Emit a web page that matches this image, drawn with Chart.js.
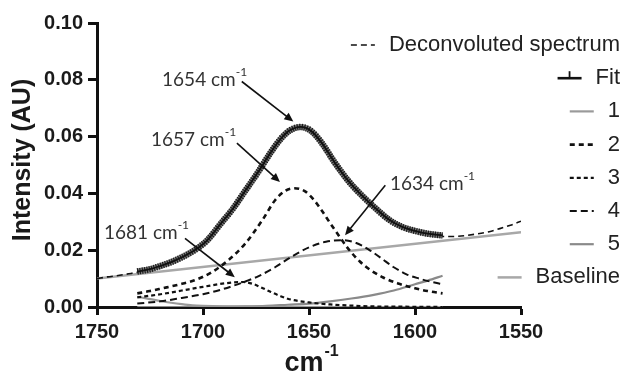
<!DOCTYPE html>
<html>
<head>
<meta charset="utf-8">
<script src="https://cdn.jsdelivr.net/npm/chart.js@4"></script>
<style>
  html, body { margin: 0; padding: 0; background: #fff; }
  #wrap { width: 624px; height: 375px; }
</style>
</head>
<body>
<div id="wrap"><canvas id="chart"></canvas></div>
<script>
// wavenumber (cm-1) / intensity pairs for every trace
const deconvWn = [1750, 1745, 1740, 1735, 1731, 1725, 1720, 1715, 1710, 1704, 1698, 1692, 1686, 1680, 1674, 1668, 1663, 1659, 1654, 1649, 1644, 1638, 1631, 1625, 1619, 1612, 1606, 1600, 1594, 1587, 1580, 1571, 1565, 1560, 1555, 1550];
const deconvVal = [0.0100, 0.0106, 0.0111, 0.0117, 0.0122, 0.0131, 0.0143, 0.0156, 0.0173, 0.0198, 0.0233, 0.0288, 0.0343, 0.0408, 0.0473, 0.0543, 0.0593, 0.0620, 0.0632, 0.0618, 0.0576, 0.0508, 0.0438, 0.0390, 0.0348, 0.0304, 0.0280, 0.0266, 0.0256, 0.0248, 0.0249, 0.0257, 0.0265, 0.0276, 0.0288, 0.0302];

const fitWn = [1731, 1725, 1720, 1715, 1710, 1704, 1698, 1692, 1686, 1680, 1674, 1668, 1663, 1659, 1654, 1649, 1644, 1638, 1631, 1625, 1619, 1612, 1606, 1600, 1594, 1587];
const fitVal = [0.0125, 0.0133, 0.0145, 0.0158, 0.0175, 0.0200, 0.0235, 0.0290, 0.0345, 0.0410, 0.0475, 0.0545, 0.0595, 0.0622, 0.0634, 0.0620, 0.0578, 0.0510, 0.0440, 0.0392, 0.0350, 0.0306, 0.0282, 0.0268, 0.0258, 0.0252];

const band1Wn = [1731, 1725, 1720, 1715, 1710, 1705, 1700, 1690, 1670, 1640, 1610, 1587];
const band1Val = [0.0036, 0.0028, 0.0021, 0.0015, 0.0010, 0.0006, 0.0004, 0.0002, 0.0001, 0, 0, 0];

const band2Wn = [1731, 1725, 1719, 1712, 1704, 1696, 1688, 1680, 1672, 1666, 1661, 1657, 1652, 1648, 1644, 1640, 1636, 1632, 1626, 1621, 1615, 1608, 1600, 1594, 1587];
const band2Val = [0.0048, 0.0056, 0.0066, 0.0078, 0.0094, 0.0122, 0.0165, 0.0224, 0.0306, 0.0376, 0.0410, 0.0418, 0.0408, 0.0380, 0.0340, 0.0295, 0.0252, 0.0210, 0.0160, 0.0130, 0.0104, 0.0083, 0.0066, 0.0056, 0.0048];

const band3Wn = [1731, 1720, 1710, 1700, 1690, 1681, 1676, 1672, 1668, 1664, 1660, 1650, 1640, 1630, 1620, 1605, 1587];
const band3Val = [0.0034, 0.0045, 0.0058, 0.0071, 0.0083, 0.0088, 0.0080, 0.0067, 0.0053, 0.0040, 0.0029, 0.0016, 0.0009, 0.0005, 0.0002, 0.0001, 0];

const band4Wn = [1731, 1720, 1710, 1700, 1692, 1686, 1680, 1674, 1666, 1658, 1650, 1642, 1634, 1628, 1622, 1616, 1610, 1604, 1598, 1592, 1587];
const band4Val = [0.0012, 0.0020, 0.0032, 0.0045, 0.0060, 0.0074, 0.0090, 0.0108, 0.0140, 0.0178, 0.0210, 0.0230, 0.0235, 0.0226, 0.0203, 0.0172, 0.0140, 0.0115, 0.0100, 0.0088, 0.0080];

const band5Wn = [1731, 1700, 1680, 1670, 1660, 1650, 1640, 1630, 1620, 1610, 1600, 1594, 1587];
const band5Val = [0, 0, 0.0002, 0.0004, 0.0008, 0.0012, 0.0020, 0.0030, 0.0042, 0.0058, 0.0080, 0.0093, 0.0110];

const baselineWn = [1750, 1550];
const baselineVal = [0.0100, 0.0263];

// axis ticks
const xTicks = [1750, 1700, 1650, 1600, 1550];
const yTicks = [0, 0.02, 0.04, 0.06, 0.08, 0.10];

// peak call-outs: label, text anchor, arrow tail, arrow tip (wavenumber, intensity)
const peakNames = ['1654', '1657', '1681', '1634'];
const peakTextAt = [[1719.3, 0.0800], [1724.5, 0.0588], [1746.7, 0.0260], [1611.8, 0.0432]];
const peakArrowFrom = [[1681.7, 0.0794], [1684.0, 0.0577], [1708.5, 0.0242], [1614.0, 0.0429]];
const peakArrowTo = [[1657.4, 0.0653], [1663.7, 0.0440], [1685.0, 0.0105], [1633.0, 0.0253]];

const series = (wn, val) => wn.map((w, i) => ({ x: w, y: val[i] }));

const datasets = [
  { label: 'Deconvoluted spectrum', data: series(deconvWn, deconvVal), borderColor: '#111', borderWidth: 1.6, borderDash: [6, 4], order: 1 },
  { label: 'Fit', data: series(fitWn, fitVal), borderColor: '#111', borderWidth: 3, order: 0 },
  { label: '1', data: series(band1Wn, band1Val), borderColor: '#9a9a9a', borderWidth: 2.2, order: 5 },
  { label: '2', data: series(band2Wn, band2Val), borderColor: '#111', borderWidth: 2.6, borderDash: [5, 4], order: 2 },
  { label: '3', data: series(band3Wn, band3Val), borderColor: '#111', borderWidth: 2.2, borderDash: [4, 3], order: 3 },
  { label: '4', data: series(band4Wn, band4Val), borderColor: '#111', borderWidth: 2, borderDash: [7, 4], order: 4 },
  { label: '5', data: series(band5Wn, band5Val), borderColor: '#8a8a8a', borderWidth: 2.2, order: 6 },
  { label: 'Baseline', data: series(baselineWn, baselineVal), borderColor: '#a8a8a8', borderWidth: 2.5, order: 7 }
];

const SANS = '"Liberation Sans", Arial, sans-serif';

// hatching on the fit, arrows, axis titles and the right-hand key
const extras = {
  id: 'extras',
  afterDatasetsDraw(chart) {
    const ctx = chart.ctx;
    const xs = chart.scales.x, ys = chart.scales.y;

    // hatched band over the fit line
    const fitLine = chart.getDatasetMeta(1).dataset;
    const strokeFit = (width, color, dash) => {
      ctx.save();
      ctx.beginPath();
      fitLine.path(ctx);
      ctx.lineWidth = width;
      ctx.setLineDash(dash);
      ctx.strokeStyle = color;
      ctx.stroke();
      ctx.restore();
    };
    strokeFit(6, '#7a7a7a', []);
    strokeFit(6.5, '#1a1a1a', [1.1, 1.3]);
    strokeFit(1.8, '#111', []);

    // peak labels with arrows
    peakNames.forEach((name, i) => {
      const tx = xs.getPixelForValue(peakTextAt[i][0]);
      const ty = ys.getPixelForValue(peakTextAt[i][1]);
      ctx.save();
      ctx.fillStyle = '#333';
      ctx.textBaseline = 'middle';
      ctx.textAlign = 'left';
      ctx.font = '19px Lato, sans-serif';
      const main = name + ' cm';
      ctx.fillText(main, tx, ty);
      const w = ctx.measureText(main).width;
      ctx.font = '12px Lato, sans-serif';
      ctx.fillText('-1', tx + w, ty - 8);
      ctx.restore();

      const x0 = xs.getPixelForValue(peakArrowFrom[i][0]);
      const y0 = ys.getPixelForValue(peakArrowFrom[i][1]);
      const x1 = xs.getPixelForValue(peakArrowTo[i][0]);
      const y1 = ys.getPixelForValue(peakArrowTo[i][1]);
      const ang = Math.atan2(y1 - y0, x1 - x0);
      const head = 9, half = 4;
      ctx.save();
      ctx.strokeStyle = '#111';
      ctx.fillStyle = '#111';
      ctx.lineWidth = 1.6;
      ctx.beginPath();
      ctx.moveTo(x0, y0);
      ctx.lineTo(x1 - Math.cos(ang) * head * 0.8, y1 - Math.sin(ang) * head * 0.8);
      ctx.stroke();
      ctx.beginPath();
      ctx.moveTo(x1, y1);
      ctx.lineTo(x1 - Math.cos(ang) * head + Math.sin(ang) * half, y1 - Math.sin(ang) * head - Math.cos(ang) * half);
      ctx.lineTo(x1 - Math.cos(ang) * head - Math.sin(ang) * half, y1 - Math.sin(ang) * head + Math.cos(ang) * half);
      ctx.closePath();
      ctx.fill();
      ctx.restore();
    });

    // axis titles
    ctx.save();
    ctx.fillStyle = '#1a1a1a';
    ctx.font = 'bold 25px ' + SANS;
    ctx.textAlign = 'center';
    ctx.textBaseline = 'middle';
    ctx.translate(23, 160);
    ctx.rotate(-Math.PI / 2);
    ctx.fillText('Intensity (AU)', 0, 0);
    ctx.restore();

    ctx.save();
    ctx.fillStyle = '#1a1a1a';
    ctx.textBaseline = 'alphabetic';
    ctx.textAlign = 'left';
    ctx.font = 'bold 27px ' + SANS;
    const cmW = ctx.measureText('cm').width;
    ctx.font = 'bold 16px ' + SANS;
    const supW = ctx.measureText('-1').width;
    const startX = 311 - (cmW + supW) / 2;
    ctx.font = 'bold 27px ' + SANS;
    ctx.fillText('cm', startX, 371);
    ctx.font = 'bold 16px ' + SANS;
    ctx.fillText('-1', startX + cmW + 1, 356);
    ctx.restore();

    // key, right aligned
    const right = 620, rowY0 = 45, rowStep = 33.2, sampleLen = 24, gap = 14;
    ctx.save();
    ctx.font = '22px ' + SANS;
    ctx.textAlign = 'right';
    ctx.textBaseline = 'middle';
    chart.data.datasets.forEach((ds, i) => {
      const y = rowY0 + i * rowStep;
      ctx.fillStyle = '#222';
      ctx.fillText(ds.label, right, y);
      const w = ctx.measureText(ds.label).width;
      const xa = right - w - gap - sampleLen, xb = right - w - gap;
      ctx.save();
      ctx.strokeStyle = ds.borderColor;
      ctx.lineWidth = Math.min(ds.borderWidth, 2.6);
      ctx.setLineDash(ds.borderDash || []);
      ctx.beginPath();
      ctx.moveTo(xa, y);
      ctx.lineTo(xb, y);
      ctx.stroke();
      if (ds.label === 'Fit') {
        ctx.lineWidth = 1.8;
        ctx.beginPath();
        ctx.moveTo((xa + xb) / 2, y);
        ctx.lineTo((xa + xb) / 2, y - 7);
        ctx.stroke();
      }
      ctx.restore();
    });
    ctx.restore();
  }
};

const tickFont = { family: SANS, size: 20, weight: 'bold' };

new Chart(document.getElementById('chart'), {
  type: 'line',
  data: { datasets },
  options: {
    responsive: true,
    maintainAspectRatio: false,
    animation: false,
    layout: { padding: { top: 23, right: 103, left: 0, bottom: 0 } },
    elements: {
      point: { radius: 0 },
      line: { cubicInterpolationMode: 'monotone', fill: false }
    },
    plugins: { legend: { display: false }, tooltip: { enabled: false } },
    scales: {
      x: {
        type: 'linear',
        reverse: true,
        min: xTicks[xTicks.length - 1],
        max: xTicks[0],
        afterBuildTicks: s => { s.ticks = xTicks.map(v => ({ value: v })); },
        afterFit: s => { s.height = 68; },
        ticks: { font: tickFont, color: '#1a1a1a', padding: 5, maxRotation: 0, callback: v => String(v) },
        grid: { drawOnChartArea: false, tickLength: 8, tickWidth: 3, tickColor: '#111' },
        border: { width: 3, color: '#111' }
      },
      y: {
        min: yTicks[0],
        max: yTicks[yTicks.length - 1],
        afterBuildTicks: s => { s.ticks = yTicks.map(v => ({ value: v })); },
        afterFit: s => { s.width = 97; },
        ticks: { font: tickFont, color: '#1a1a1a', padding: 5, callback: v => v.toFixed(2) },
        grid: { drawOnChartArea: false, tickLength: 9, tickWidth: 3, tickColor: '#111' },
        border: { width: 3, color: '#111' }
      }
    }
  },
  plugins: [extras]
});
</script>
</body>
</html>
